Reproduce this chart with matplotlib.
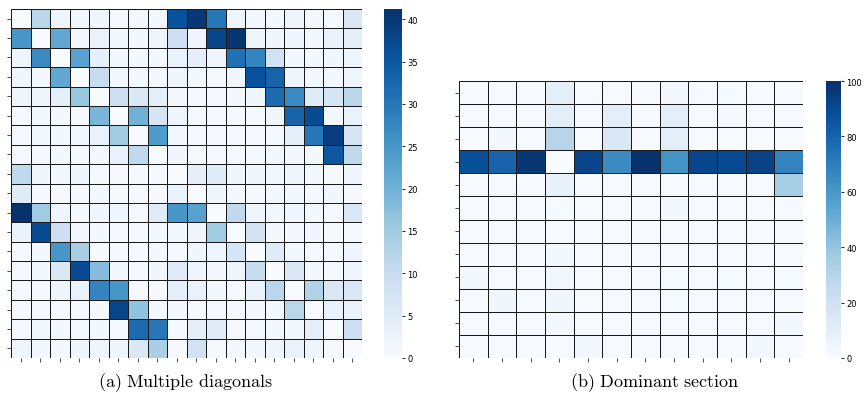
import numpy as np
import matplotlib
matplotlib.use("Agg")
import matplotlib.pyplot as plt
import seaborn as sns

# (a) multiple diagonals, 18 x 18
diag_vals = [
    [0, 12, 2, 1, 2, 0.5, 1, 1, 36, 40, 30, 2, 1, 1, 2, 1, 0.5, 6],
    [25, 0, 22, 1, 3, 1, 1, 2, 9, 2, 38, 40.5, 2, 1.5, 1.5, 1, 3, 4],
    [2, 27, 0, 23, 4, 1, 1, 1, 3, 4, 2, 31, 28, 8, 1, 1, 1.5, 2],
    [1.5, 1, 22, 0, 10, 1, 1, 1, 2, 1, 0.5, 1.5, 36, 33, 2, 1, 1, 2],
    [2, 2, 4, 16, 0, 9, 6, 4, 1, 0.5, 0.5, 1, 1.5, 32, 27, 5, 7, 12],
    [0.5, 1, 1, 0.5, 19, 0, 20, 7, 2, 0.5, 0.5, 0.5, 0.5, 2, 33, 37, 1, 3],
    [0.5, 1, 1, 1, 3, 15, 0, 24, 1, 0.5, 0.5, 0.5, 0.5, 0.5, 4, 30, 39, 7],
    [0.5, 0.5, 1, 0.5, 1, 3, 11, 0, 1.5, 0.5, 0.5, 0.5, 0.5, 1, 1, 1, 35, 11],
    [11, 2, 1, 1.5, 0.5, 0.5, 0.5, 0.5, 0, 4, 5, 1.5, 1.5, 1, 1.5, 1, 0.5, 2],
    [5, 0.5, 0.5, 0.5, 1, 0.5, 0.5, 0.5, 3, 0, 2, 1, 0.5, 1, 1, 0.5, 1.5, 0.5],
    [41.2, 15, 2, 0.5, 1.5, 2, 0.5, 5, 25, 23, 0, 11, 2, 1, 1.5, 1, 0.5, 6],
    [3, 37, 9, 1, 1, 0.5, 0.5, 1, 1, 2, 15, 0, 8, 1, 1, 1.5, 0.5, 0.5],
    [0.5, 1, 25, 14, 0.5, 0.5, 0.5, 1, 0.5, 1.5, 2, 7, 0, 5, 1, 0.5, 0.5, 2],
    [0.5, 1, 6, 37, 18, 1, 0.5, 1.5, 5, 2, 1, 2, 10, 0, 6, 1, 0.5, 2],
    [0.5, 0.5, 2, 3, 28, 25, 0.5, 0.5, 4, 3, 1, 0.5, 3, 12, 0, 13, 6, 6],
    [0.5, 0.5, 0.5, 0.5, 1, 38, 17, 1, 1, 0.5, 0.5, 0.5, 1, 1, 12, 0, 3, 3],
    [0.5, 1, 1, 0.5, 1, 0.5, 32, 30, 0.5, 4, 5, 0.5, 0.5, 1, 1, 4, 0, 9],
    [2, 1, 1, 1.5, 2, 2, 6, 14, 0.5, 8, 0.5, 1, 1, 2, 3, 2, 0.5, 0],
]

# (b) dominant section, 12 x 12
dom_vals = [
    [0.5, 0.5, 0.5, 10, 0.5, 0.5, 0.5, 2, 0.5, 1, 0.5, 0.5],
    [0.5, 0.5, 0.5, 10, 0.5, 10, 0.5, 10, 0.5, 1.5, 0.5, 0.5],
    [0.5, 2, 0.5, 30, 0.5, 15, 0.5, 10, 0.5, 0.5, 0.5, 0.5],
    [88, 80, 97, 0, 92, 65, 99, 62, 92, 90, 93, 68],
    [0.5, 0.5, 0.5, 8, 0.5, 0.5, 0.5, 0.5, 0.5, 0.5, 0.5, 35],
    [0.5, 0.5, 0.5, 1, 0.5, 0.5, 0.5, 2, 0.5, 0.5, 0.5, 0.5],
    [0.5, 0.5, 0.5, 0.5, 0.5, 0.5, 0.5, 0.5, 0.5, 0.5, 0.5, 0.5],
    [0.5, 0.5, 0.5, 2, 0.5, 0.5, 0.5, 0.5, 0.5, 0.5, 0.5, 0.5],
    [2.5, 0.5, 0.5, 3, 0.5, 0.5, 0.5, 1, 0.5, 1, 0.5, 1],
    [0.5, 4, 0.5, 4, 0.5, 0.5, 0.5, 0.8, 0.5, 0.5, 0.5, 0.5],
    [0.5, 0.5, 0.5, 2, 0.5, 0.5, 0.5, 0.5, 0.5, 0.5, 0.5, 2],
    [0.5, 0.5, 0.5, 0.5, 2, 0.5, 0.5, 0.5, 0.5, 0.5, 2, 0.5],
]

captions = ["(a) Multiple diagonals", "(b) Dominant section"]

plt.rcParams["mathtext.fontset"] = "cm"

fig = plt.figure(figsize=(8.63, 4.02), dpi=100)

ax1 = fig.add_axes([11 / 863, 43 / 402, 351 / 863, 349 / 402])
cax1 = fig.add_axes([384 / 863, 43 / 402, 18 / 863, 349 / 402])
ax2 = fig.add_axes([459 / 863, 43 / 402, 344 / 863, 277 / 402])
cax2 = fig.add_axes([826 / 863, 43 / 402, 15 / 863, 277 / 402])

sns.heatmap(np.array(diag_vals), ax=ax1, cbar_ax=cax1, cmap="Blues",
            vmin=0, linewidths=0.6, linecolor="#1a1a1a")
sns.heatmap(np.array(dom_vals), ax=ax2, cbar_ax=cax2, cmap="Blues",
            vmin=0, vmax=100, linewidths=0.6, linecolor="#1a1a1a")

for ax in (ax1, ax2):
    ax.set_xticklabels([""] * len(ax.get_xticks()))
    ax.set_yticklabels([""] * len(ax.get_yticks()))
    ax.tick_params(length=3, width=0.6, color="#333333")

cax1.set_yticks([0, 5, 10, 15, 20, 25, 30, 35, 40])
cax2.set_yticks([0, 20, 40, 60, 80, 100])
for cax in (cax1, cax2):
    cax.tick_params(labelsize=6, length=2.5, width=0.6, pad=1.5)

fig.text(185 / 863, 1 - 383 / 402, r"$\mathrm{(a)\ Multiple\ diagonals}$",
         ha="center", va="center", fontsize=13)
fig.text(655 / 863, 1 - 383 / 402, r"$\mathrm{(b)\ Dominant\ section}$",
         ha="center", va="center", fontsize=13)

fig.savefig("out.png", dpi=100)
